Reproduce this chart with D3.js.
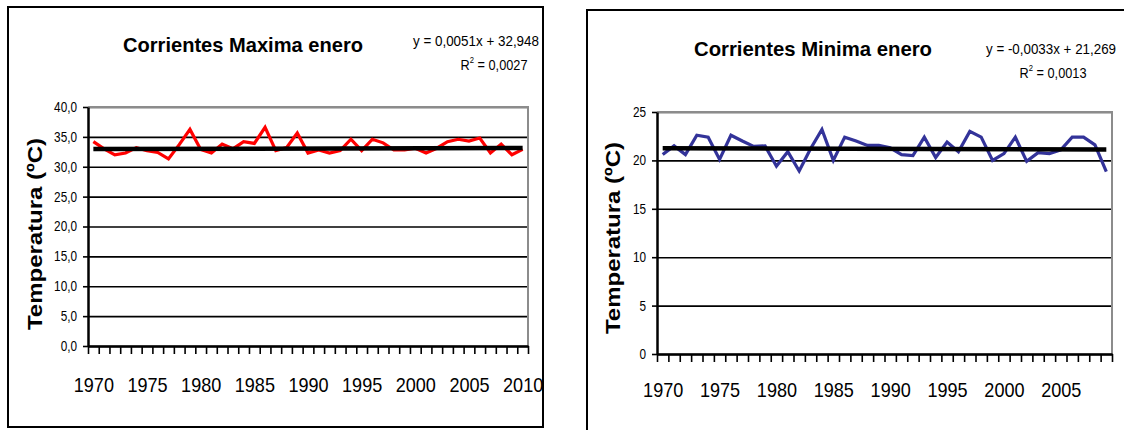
<!DOCTYPE html>
<html><head><meta charset="utf-8">
<script src="https://cdn.jsdelivr.net/npm/d3@7"></script>
<style>
body{margin:0;background:#fff;}
svg{display:block;}
text{font-family:"Liberation Sans",Arial,Helvetica,sans-serif;fill:#000;}
</style>
</head><body>
<svg id="c" width="1124" height="430"></svg>
<script>
// ---- Data ----
const yearsMax = [1970,1971,1972,1973,1974,1975,1976,1977,1978,1979,1980,1981,1982,1983,1984,1985,1986,1987,1988,1989,1990,1991,1992,1993,1994,1995,1996,1997,1998,1999,2000,2001,2002,2003,2004,2005,2006,2007,2008,2009,2010];
const tempMax = [34.2,33.0,32.0,32.3,33.2,32.7,32.4,31.3,33.7,36.25,32.9,32.3,33.8,33.0,34.2,33.9,36.6,32.7,33.2,35.65,32.3,32.8,32.3,32.7,34.6,32.7,34.6,34.0,32.8,32.8,33.1,32.3,33.1,34.2,34.6,34.3,34.8,32.3,33.8,32.0,32.9];
const yearsMin = [1970,1971,1972,1973,1974,1975,1976,1977,1978,1979,1980,1981,1982,1983,1984,1985,1986,1987,1988,1989,1990,1991,1992,1993,1994,1995,1996,1997,1998,1999,2000,2001,2002,2003,2004,2005,2006,2007,2008,2009];
const tempMin = [20.6,21.5,20.6,22.6,22.4,20.1,22.6,22.0,21.45,21.5,19.4,20.9,18.9,21.2,23.2,20.0,22.4,22.0,21.55,21.55,21.3,20.6,20.5,22.4,20.3,21.9,20.9,23.0,22.4,20.0,20.7,22.4,19.9,20.8,20.7,21.1,22.4,22.4,21.6,18.85];
const yTicksMax = [0,5,10,15,20,25,30,35,40];
const yTicksMin = [0,5,10,15,20,25];
const xLabelsMax = [1970,1975,1980,1985,1990,1995,2000,2005,2010];
const xLabelsMin = [1970,1975,1980,1985,1990,1995,2000,2005];
const trendMax = [0.0051, 32.948];   // slope, intercept (x = 1..n)
const trendMin = [-0.0033, 21.269];
const titleMax = "Corrientes Maxima enero";
const titleMin = "Corrientes Minima enero";
const eqMax = "y = 0,0051x + 32,948";
const eqMin = "y = -0,0033x + 21,269";
const r2Max = "0,0027";
const r2Min = "0,0013";
const yTitle = "Temperatura (ºC)";

const svg = d3.select("#c");

function squeeze(sel, f){
  sel.each(function(){
    const w = this.getComputedTextLength();
    d3.select(this).attr("textLength", w*f).attr("lengthAdjust","spacingAndGlyphs");
  });
}

function drawChart(o){
  const g = svg.append("g");
  g.append("rect").attr("x",o.frame[0]).attr("y",o.frame[1]).attr("width",o.frame[2]).attr("height",o.frame[3])
    .attr("fill","#fff").attr("stroke","#000").attr("stroke-width",2);

  const n = o.years.length;
  const x = d3.scaleLinear().domain([0,n]).range([o.px0,o.px1]);
  const y = d3.scaleLinear().domain([0,o.yMax]).range([o.py1,o.py0]);

  // gridlines
  g.append("g").attr("transform",`translate(${o.px0},0)`)
    .call(d3.axisLeft(y).tickValues(o.yTicks).tickSize(-(o.px1-o.px0)).tickFormat(""))
    .call(s=>{s.select(".domain").remove(); s.selectAll("line").attr("stroke","#000").attr("stroke-width",1.6);});

  // plot area border (gray)
  g.append("path").attr("d",`M${o.px0},${o.py0}H${o.px1}V${o.py1}`)
    .attr("fill","none").attr("stroke","#8c8c8c").attr("stroke-width",2);

  // data line
  const line = d3.line().x((d,i)=>x(i+0.5)).y(d=>y(d));
  g.append("path").datum(o.values).attr("d",line).attr("fill","none")
    .attr("stroke",o.color).attr("stroke-width",3.2).attr("stroke-linejoin","miter");

  // trend line
  const tr = [o.trend[0]*1+o.trend[1], o.trend[0]*n+o.trend[1]];
  g.append("line").attr("x1",x(0.5)).attr("x2",x(n-0.5)).attr("y1",y(tr[0])).attr("y2",y(tr[1]))
    .attr("stroke","#000").attr("stroke-width",4.5);

  // x axis ticks
  g.append("g").attr("transform",`translate(0,${o.py1})`)
    .call(d3.axisBottom(x).tickValues(d3.range(n+1)).tickSize(8).tickFormat("").tickSizeOuter(0))
    .call(s=>{s.select(".domain").attr("stroke","#000").attr("stroke-width",2.5); s.selectAll("line").attr("stroke","#000").attr("stroke-width",1.6);});

  // x labels
  const labIdx = o.xLabels.map(v=>o.years.indexOf(v)+0.5);
  const xl = g.append("g").attr("transform",`translate(0,${o.labelY})`)
    .call(d3.axisBottom(x).tickValues(labIdx).tickSize(0).tickPadding(0)
      .tickFormat(d=>o.years[Math.round(d-0.5)]));
  xl.select(".domain").remove();
  xl.selectAll("text").attr("font-size",21).attr("font-family","Liberation Sans, Arial, sans-serif")
    .attr("dy",0).attr("y",0).attr("fill","#000");
  squeeze(xl.selectAll("text"),0.86);

  // y axis
  const ya = g.append("g").attr("transform",`translate(${o.px0},0)`)
    .call(d3.axisLeft(y).tickValues(o.yTicks).tickSize(5).tickPadding(6).tickFormat(o.yFmt).tickSizeOuter(0));
  ya.select(".domain").attr("stroke","#000").attr("stroke-width",2.5);
  ya.selectAll("line").attr("stroke","#000").attr("stroke-width",1.6);
  ya.selectAll("text").attr("font-size",14).attr("font-family","Liberation Sans, Arial, sans-serif").attr("fill","#000");
  squeeze(ya.selectAll("text"),0.84);

  // y title
  const yt = g.append("text").attr("transform",`translate(${o.ytX},${o.ytY}) rotate(-90)`)
    .attr("text-anchor","middle").attr("dominant-baseline","central")
    .attr("font-size",20).attr("font-weight","bold").text(yTitle);
  yt.attr("textLength",192).attr("lengthAdjust","spacingAndGlyphs");

  // title
  g.append("text").attr("x",o.tX).attr("y",o.tY).attr("text-anchor","middle")
    .attr("font-size",21).attr("font-weight","bold").text(o.title)
    .attr("textLength",o.tLen).attr("lengthAdjust","spacingAndGlyphs");

  // equation
  g.append("text").attr("x",o.eqX).attr("y",o.eqY).attr("text-anchor","end")
    .attr("font-size",14).text(o.eq)
    .attr("textLength",o.eqLen).attr("lengthAdjust","spacingAndGlyphs");
  const r = g.append("text").attr("x",o.r2X).attr("y",o.r2Y).attr("text-anchor","middle").attr("font-size",15);
  r.append("tspan").text("R");
  r.append("tspan").attr("font-size",9).attr("dy",-7).text("2");
  r.append("tspan").attr("dy",7).text(" = " + o.r2);
  squeeze(r, 0.85);
}

drawChart({
  frame:[8,7,535,420], px0:88, px1:528, py0:107, py1:346, yMax:40,
  years:yearsMax, values:tempMax, yTicks:yTicksMax, xLabels:xLabelsMax, trend:trendMax,
  color:"#ff0000", yFmt:d=>d.toFixed(1).replace(".",","), labelY:392,
  ytX:35, ytY:234, title:titleMax, tX:243, tY:52, tLen:240,
  eq:eqMax, eqX:539, eqY:46, eqLen:126, r2:r2Max, r2X:494, r2Y:70
});
drawChart({
  frame:[587,10,600,500], px0:657, px1:1112, py0:112, py1:354, yMax:25,
  years:yearsMin, values:tempMin, yTicks:yTicksMin, xLabels:xLabelsMin, trend:trendMin,
  color:"#333399", yFmt:d=>String(d), labelY:397,
  ytX:613, ytY:238, title:titleMin, tX:813, tY:56, tLen:238,
  eq:eqMin, eqX:1116, eqY:54, eqLen:130, r2:r2Min, r2X:1053, r2Y:78
});
</script>
</body></html>
